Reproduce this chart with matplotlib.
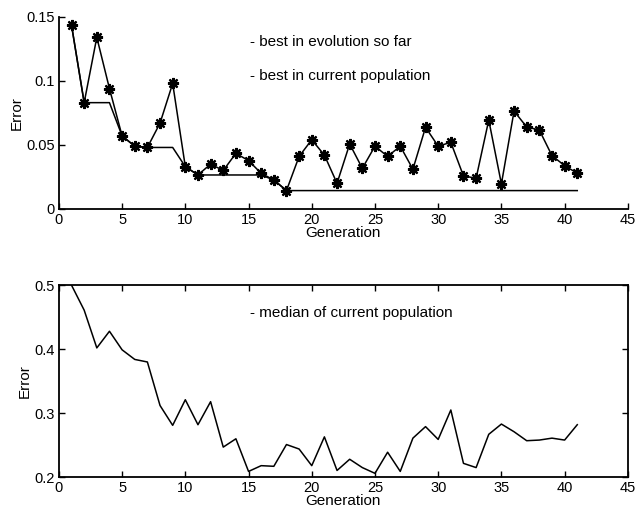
import matplotlib
matplotlib.use("Agg")
import matplotlib.pyplot as plt

generation = list(range(1, 42))

best_current = [0.1435, 0.083, 0.134, 0.094, 0.057, 0.049, 0.048, 0.067, 0.098, 0.033,
                0.0265, 0.035, 0.030, 0.0434, 0.0377, 0.0278, 0.0226, 0.0143, 0.041, 0.054,
                0.042, 0.020, 0.0507, 0.0317, 0.049, 0.041, 0.049, 0.031, 0.0637, 0.049,
                0.052, 0.0257, 0.024, 0.0694, 0.0195, 0.0764, 0.064, 0.0616, 0.0416, 0.0338,
                0.0278]

best_so_far = [0.1435, 0.083, 0.083, 0.083, 0.057, 0.049, 0.048, 0.048, 0.048, 0.033,
               0.0265, 0.0265, 0.0265, 0.0265, 0.0265, 0.0265, 0.0226, 0.0143, 0.0143, 0.0143,
               0.0143, 0.0143, 0.0143, 0.0143, 0.0143, 0.0143, 0.0143, 0.0143, 0.0143, 0.0143,
               0.0143, 0.0143, 0.0143, 0.0143, 0.0143, 0.0143, 0.0143, 0.0143, 0.0143, 0.0143,
               0.0143]

median_current = [0.500, 0.461, 0.402, 0.428, 0.399, 0.384, 0.380, 0.312, 0.281, 0.321,
                  0.282, 0.318, 0.247, 0.260, 0.209, 0.218, 0.217, 0.251, 0.244, 0.218,
                  0.263, 0.2105, 0.228, 0.215, 0.206, 0.239, 0.209, 0.261, 0.279, 0.259,
                  0.305, 0.2216, 0.215, 0.267, 0.283, 0.271, 0.257, 0.258, 0.261, 0.258,
                  0.282]

top_yticks = [0, 0.05, 0.1, 0.15]
top_yticklabels = ["0", "0.05", "0.1", "0.15"]
bottom_yticks = [0.2, 0.3, 0.4, 0.5]
bottom_yticklabels = ["0.2", "0.3", "0.4", "0.5"]
xticks = [0, 5, 10, 15, 20, 25, 30, 35, 40, 45]

plt.rcParams['font.family'] = ['Liberation Sans', 'DejaVu Sans']
plt.rcParams['font.size'] = 11

fig = plt.figure(figsize=(6.4, 5.12), dpi=100)

ax1 = fig.add_axes([0.092, 0.592, 0.889, 0.375])
ax1.plot(generation, best_so_far, color='black', lw=1.1)
ax1.plot(generation, best_current, color='black', lw=1.1, marker=(8, 2, 0),
         markersize=8, markeredgewidth=1.6)
ax1.set_xlim(0, 45)
ax1.set_ylim(0, 0.15)
ax1.set_xticks(xticks)
ax1.set_yticks(top_yticks)
ax1.set_yticklabels(top_yticklabels)
ax1.spines['top'].set_visible(False)
ax1.spines['right'].set_visible(False)
ax1.tick_params(direction='in', length=4, width=1, pad=3, labelsize=10.5)
ax1.set_xlabel("Generation", labelpad=-1)
ax1.set_ylabel("Error", labelpad=2)
ax1.text(15.1, 0.1305, "- best in evolution so far", fontsize=11, va='center')
ax1.text(15.1, 0.104, "- best in current population", fontsize=11, va='center')
for s in ax1.spines.values():
    s.set_linewidth(1.3)

ax2 = fig.add_axes([0.092, 0.068, 0.889, 0.375])
ax2.plot(generation, median_current, color='black', lw=1.1)
ax2.set_xlim(0, 45)
ax2.set_ylim(0.2, 0.5)
ax2.set_xticks(xticks)
ax2.set_yticks(bottom_yticks)
ax2.set_yticklabels(bottom_yticklabels)
ax2.tick_params(direction='in', length=4, width=1, pad=3, labelsize=10.5, top=True, right=True)
ax2.set_xlabel("Generation", labelpad=-1)
ax2.set_ylabel("Error", labelpad=2)
ax2.text(15.1, 0.456, "- median of current population", fontsize=11, va='center')
for s in ax2.spines.values():
    s.set_linewidth(1.3)

fig.savefig("out.png", dpi=100, facecolor='white')
